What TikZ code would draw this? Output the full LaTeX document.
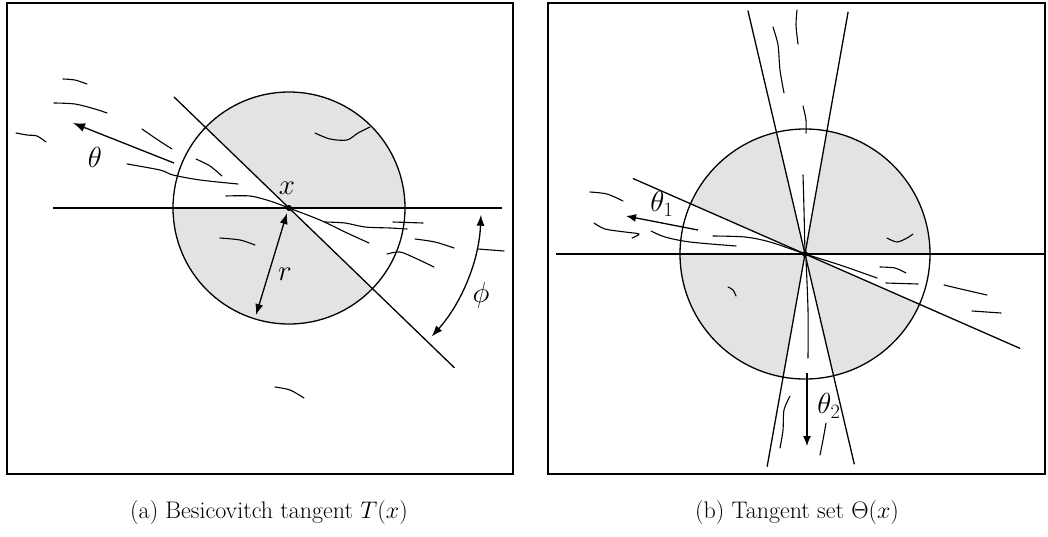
\RequirePackage{fix-cm}
\documentclass[tikz,border=0pt]{standalone}
\usetikzlibrary{arrows.meta}
\begin{document}
\begin{tikzpicture}[x=1pt,y=-1pt,
  frame/.style={line width=1.6pt},
  ln/.style={line width=1.3pt},
  sq/.style={line width=1.1pt, line cap=round, line join=round},
  shadefill/.style={fill=black!11},
  lbl/.style={font=\fontsize{29}{33}\selectfont, inner sep=0pt},
  captext/.style={font=\fontsize{24}{28}\selectfont, inner sep=0pt},
  bigtip/.style={-{Latex[length=12pt,width=9pt]}},
  smalltip/.style={-{Latex[length=10pt,width=8pt]}},
  dbltip/.style={{Latex[length=11pt,width=8pt]}-{Latex[length=11pt,width=8pt]}}]
\useasboundingbox (0,0) rectangle (1048,536);

% ================= left panel =================
\draw[frame] (7,3) rectangle (513,474);
\coordinate (CA) at (289,208);
\fill[shadefill] (CA) -- ++(-136:116) arc[start angle=-136, end angle=0, radius=116] -- cycle;
\fill[shadefill] (CA) -- ++(44:116) arc[start angle=44, end angle=180, radius=116] -- cycle;
\draw[ln] (CA) circle[radius=116];
\coordinate (HA1) at (53,208);
\coordinate (HA2) at (502,208);
\draw[ln] (HA1) -- (HA2);
\path (CA) ++(-136:160) coordinate (DA1);
\path (CA) ++(44:230) coordinate (DA2);
\draw[ln] (DA1) -- (DA2);
\fill (CA) circle[radius=3];

% squiggles left
\draw[sq] plot[smooth] coordinates {(63,79) (75,80) (87,84)};
\draw[sq] plot[smooth] coordinates {(54,103) (75,104) (95,109) (107,113)};
\draw[sq] plot[smooth] coordinates {(16,133) (27,135) (37,136) (46,142)};
\draw[sq] plot[smooth] coordinates {(142,129) (158,140) (172,149)};
\draw[sq] plot[smooth] coordinates {(127,164) (160,170) (173,175) (200,180) (238,184)};
\draw[sq] plot[smooth] coordinates {(196,159) (210,166) (222,176)};
\draw[sq] plot[smooth] coordinates {(226,196) (250,196) (270,201) (289,208)};
\draw[sq] plot[smooth] coordinates {(315,133) (330,139) (347,140) (358,133) (370,127)};
\draw[sq] plot[smooth] coordinates {(220,238) (240,240) (255,245)};
\draw[sq] plot[smooth] coordinates {(289,208) (320,220) (345,232) (369,243)};
\draw[sq] plot[smooth] coordinates {(325,222) (345,223) (365,227) (390,228) (407,229)};
\draw[sq] plot[smooth] coordinates {(393,222) (423,223)};
\draw[sq] plot[smooth] coordinates {(415,239) (435,242) (454,248)};
\draw[sq] plot[smooth] coordinates {(478,249) (504,251)};
\draw[sq] plot[smooth] coordinates {(387,254) (400,252) (415,258) (434,267)};
\draw[sq] plot[smooth] coordinates {(275,387) (290,390) (304,398)};

% arrows and labels left
\coordinate (TA1) at (174,163);
\coordinate (TA2) at (73,123);
\draw[ln, bigtip] (TA1) -- (TA2);
\coordinate (RA1) at (287,213);
\coordinate (RA2) at (256,315);
\draw[ln, dbltip] (RA1) -- (RA2);
\path (CA) ++(2:192) coordinate (PA1);
\draw[ln, dbltip] (PA1) arc[start angle=2, end angle=42, radius=192];
\node[lbl] (thetaA) at (95,157) {$\theta$};
\node[lbl] (xA) at (287,188) {$x$};
\node[lbl] (rA) at (285,274) {$r$};
\node[lbl] (phiA) at (481,295) {$\phi$};

% ================= right panel =================
\draw[frame] (548,3) rectangle (1045,474);
\coordinate (CB) at (805,254);
\fill[shadefill] (CB) -- ++(23.7:125) arc[start angle=23.7, end angle=76.8, radius=125] -- cycle;
\fill[shadefill] (CB) -- ++(100.1:125) arc[start angle=100.1, end angle=180, radius=125] -- cycle;
\fill[shadefill] (CB) -- ++(203.7:125) arc[start angle=203.7, end angle=256.8, radius=125] -- cycle;
\fill[shadefill] (CB) -- ++(280.1:125) arc[start angle=280.1, end angle=360, radius=125] -- cycle;
\draw[ln] (CB) circle[radius=125];
\coordinate (HB1) at (556,254);
\coordinate (HB2) at (1045,254);
\draw[ln] (HB1) -- (HB2);
\path (CB) ++(203.7:188) coordinate (DB1);
\path (CB) ++(23.7:235) coordinate (DB2);
\draw[ln] (DB1) -- (DB2);
\path (CB) ++(-103.2:250) coordinate (KA1);
\path (CB) ++(76.8:216) coordinate (KA2);
\draw[ln] (KA1) -- (KA2);
\path (CB) ++(-79.9:246) coordinate (KB1);
\path (CB) ++(100.1:216) coordinate (KB2);
\draw[ln] (KB1) -- (KB2);
\fill (CB) circle[radius=3];

% squiggles right
\draw[sq] plot[smooth] coordinates {(797,10) (796,25) (798,44)};
\draw[sq] plot[smooth] coordinates {(773,27) (778,45) (780,70) (784,93)};
\draw[sq] plot[smooth] coordinates {(803,106) (806,120) (806,133)};
\draw[sq] plot[smooth] coordinates {(803,175) (804,210) (805,254)};
\draw[sq] plot[smooth] coordinates {(590,192) (607,194) (623,201)};
\draw[sq] plot[smooth] coordinates {(594,223) (605,229) (625,232) (639,234) (632,238)};
\draw[sq] plot[smooth] coordinates {(651,231) (665,237) (690,242) (736,246)};
\draw[sq] plot[smooth] coordinates {(713,236) (745,237) (770,242) (805,254)};
\draw[sq] plot[smooth] coordinates {(887,238) (897,242) (907,238) (913,234)};
\draw[sq] plot[smooth] coordinates {(880,267) (895,268) (906,273)};
\draw[sq] plot[smooth] coordinates {(805,254) (840,265) (877,278)};
\draw[sq] plot[smooth] coordinates {(886,283) (918,284)};
\draw[sq] plot[smooth] coordinates {(944,285) (965,290) (987,295)};
\draw[sq] plot[smooth] coordinates {(972,311) (1001,313)};
\draw[sq] plot[smooth] coordinates {(728,287) (733,290) (736,296)};
\draw[sq] plot[smooth] coordinates {(806,260) (808,310) (808,358)};
\draw[sq] plot[smooth] coordinates {(790,396) (784,410) (783,430) (780,448)};
\draw[sq] plot[smooth] coordinates {(826,423) (823,440) (820,455)};

% arrows and labels right
\coordinate (TB1) at (698,230);
\coordinate (TB2) at (626,216);
\draw[ln, smalltip] (TB1) -- (TB2);
\coordinate (TC1) at (807,373);
\coordinate (TC2) at (807,446);
\draw[ln, smalltip] (TC1) -- (TC2);
\node[lbl] (thetaB) at (662,204) {$\theta_1$};
\node[lbl] (thetaC) at (829,406) {$\theta_2$};

% captions
\node[captext] (capA) at (269,512) {(a) Besicovitch tangent $T(x)$};
\node[captext] (capB) at (797,512) {(b) Tangent set $\Theta(x)$};
\end{tikzpicture}
\end{document}
